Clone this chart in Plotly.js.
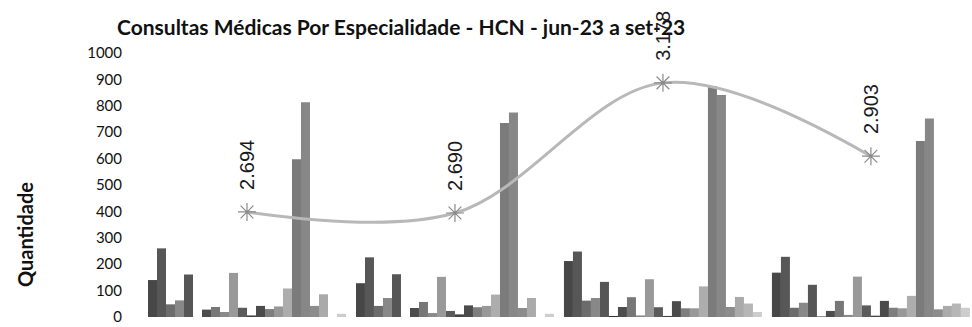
<!DOCTYPE html>
<html>
<head>
<meta charset="utf-8">
<script src="https://cdn.plot.ly/plotly-3.0.1.min.js"></script>
<style>html,body{margin:0;padding:0;background:#fff}#chart{width:972px;height:327px}</style>
</head>
<body>
<div id="chart"></div>
<script>
const categories = ['jun-23', 'jul-23', 'ago-23', 'set-23'];

const s01 = [140, 128, 212, 168];
const s02 = [260, 226, 248, 228];
const s03 = [48, 42, 62, 35];
const s04 = [63, 72, 72, 54];
const s05 = [161, 162, 133, 122];
const s06 = [0, 0, 4, 2];
const s07 = [28, 34, 38, 23];
const s08 = [38, 57, 75, 61];
const s09 = [19, 15, 6, 8];
const s10 = [167, 152, 143, 153];
const s11 = [35, 23, 37, 44];
const s12 = [6, 10, 4, 5];
const s13 = [42, 44, 60, 61];
const s14 = [30, 37, 33, 35];
const s15 = [40, 42, 33, 33];
const s16 = [108, 85, 116, 80];
const s17 = [598, 735, 875, 667];
const s18 = [813, 775, 841, 752];
const s19 = [42, 34, 38, 29];
const s20 = [86, 72, 76, 42];
const s21 = [0, 0, 51, 51];
const s22 = [12, 12, 19, 35];

const totals = [2694, 2690, 3178, 2903];
const totalLabels = ['2.694', '2.690', '3.178', '2.903'];

const seriesList = [s01, s02, s03, s04, s05, s06, s07, s08, s09, s10, s11,
                    s12, s13, s14, s15, s16, s17, s18, s19, s20, s21, s22];
const grays = ['#474747', '#575757', '#6c6c6c', '#888888', '#565656', '#333333',
               '#4d4d4d', '#777777', '#8a8a8a', '#999999', '#5b5b5b', '#444444',
               '#4b4b4b', '#7e7e7e', '#989898', '#adadad', '#7b7b7b', '#878787',
               '#8c8c8c', '#aaaaaa', '#b6b6b6', '#cdcdcd'];

const traces = seriesList.map((vals, i) => ({
  type: 'bar',
  name: 'Especialidade ' + (i + 1),
  x: categories,
  y: vals,
  marker: { color: grays[i], line: { width: 0 } },
  hoverinfo: 'y'
}));

traces.push({
  type: 'scatter',
  mode: 'lines+markers',
  name: 'Total',
  x: categories,
  y: totals,
  yaxis: 'y2',
  line: { shape: 'spline', smoothing: 1, color: '#b8b8b8', width: 3 },
  marker: { symbol: 'asterisk-open', size: 15, color: '#8a8a8a', line: { color: '#8a8a8a', width: 1.2 } }
});

const annotations = categories.map((c, i) => ({
  x: c, y: totals[i], xref: 'x', yref: 'y2',
  text: totalLabels[i], textangle: -90, showarrow: false,
  xanchor: 'center', yanchor: 'bottom', yshift: 20,
  font: { family: 'Liberation Sans, Arial, sans-serif', size: 20, color: '#1a1a1a' }
}));

// y-axis title placed at its pixel spot (centre x≈25, y≈235) as paper coordinates
annotations.push({
  x: (25 - 143) / (972 - 143), y: (317 - 235) / (317 - 53),
  xref: 'paper', yref: 'paper', text: '<b>Quantidade</b>',
  textangle: -90, showarrow: false, xanchor: 'center', yanchor: 'middle',
  font: { family: 'Lato, sans-serif', size: 20, color: '#111' }
});

const layout = {
  width: 972, height: 327,
  margin: { l: 143, r: 0, t: 53, b: 10, pad: 0 },
  paper_bgcolor: '#ffffff', plot_bgcolor: '#ffffff',
  showlegend: false,
  barmode: 'group', bargap: 0.048, bargroupgap: 0,
  title: {
    text: '<b>Consultas Médicas Por Especialidade - HCN - jun-23 a set-23</b>',
    x: 117 / 972, xanchor: 'left', xref: 'container',
    y: 1 - 28 / 327, yanchor: 'middle', yref: 'container',
    font: { family: 'Lato, sans-serif', size: 21, color: '#111' }
  },
  xaxis: {
    type: 'category', range: [-0.5, 3.486],
    showticklabels: false, showgrid: false, zeroline: false, showline: false, ticks: ''
  },
  yaxis: {
    range: [0, 1000], dtick: 100, tick0: 0,
    showgrid: false, zeroline: false, showline: false,
    ticks: 'outside', ticklen: 17, tickcolor: 'rgba(0,0,0,0)',
    tickfont: { family: 'Lato, sans-serif', size: 15, color: '#111' }
  },
  yaxis2: {
    overlaying: 'y', side: 'right', range: [2300, 3290],
    visible: false, showgrid: false, zeroline: false
  },
  annotations: annotations
};

Plotly.newPlot('chart', traces, layout, { displayModeBar: false, staticPlot: true });
</script>
</body>
</html>
